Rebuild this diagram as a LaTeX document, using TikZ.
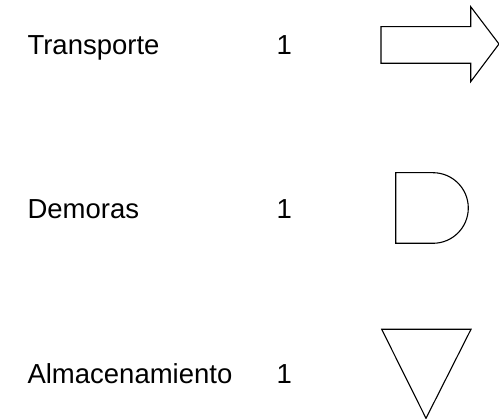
\documentclass[tikz,border=0pt]{standalone}
\usepackage{fontspec}
\setmainfont{Liberation Sans}
\usepackage{tikz}
\tikzset{
  lbl/.style={anchor=base west,inner sep=0pt,font=\fontsize{27.5}{33}\selectfont},
  sym/.style={draw,line width=1.1pt,fill=white},
  every picture/.style={line width=1.1pt},
}
\begin{document}
\begin{tikzpicture}[x=1pt,y=-1pt]
\useasboundingbox (0,0) rectangle (499,419);
\node[lbl] (tr) at (27,55){Transporte}; \node[lbl] (n1) at (276,55){1};
\node[lbl] (de) at (27,219){Demoras}; \node[lbl] (n2) at (276,219){1};
\node[lbl] (al) at (27,384){Almacenamiento}; \node[lbl] (n3) at (276,384){1};
% transporte
\draw[sym] (381,26.7)--(470.7,26.7)--(470.7,6.7)--(499,44)--(470.7,81.7)--(470.7,63.3)--(381,63.3)--cycle;
% demora
\draw[sym] (395.7,172.7)--(433,172.7) arc[start angle=-90,end angle=90,radius=35.3]--(395.7,243.3)--cycle;
% almacenamiento
\draw[sym] (381.7,329.3)--(471,329.3)--(426,418.3)--cycle;
\end{tikzpicture}
\end{document}
